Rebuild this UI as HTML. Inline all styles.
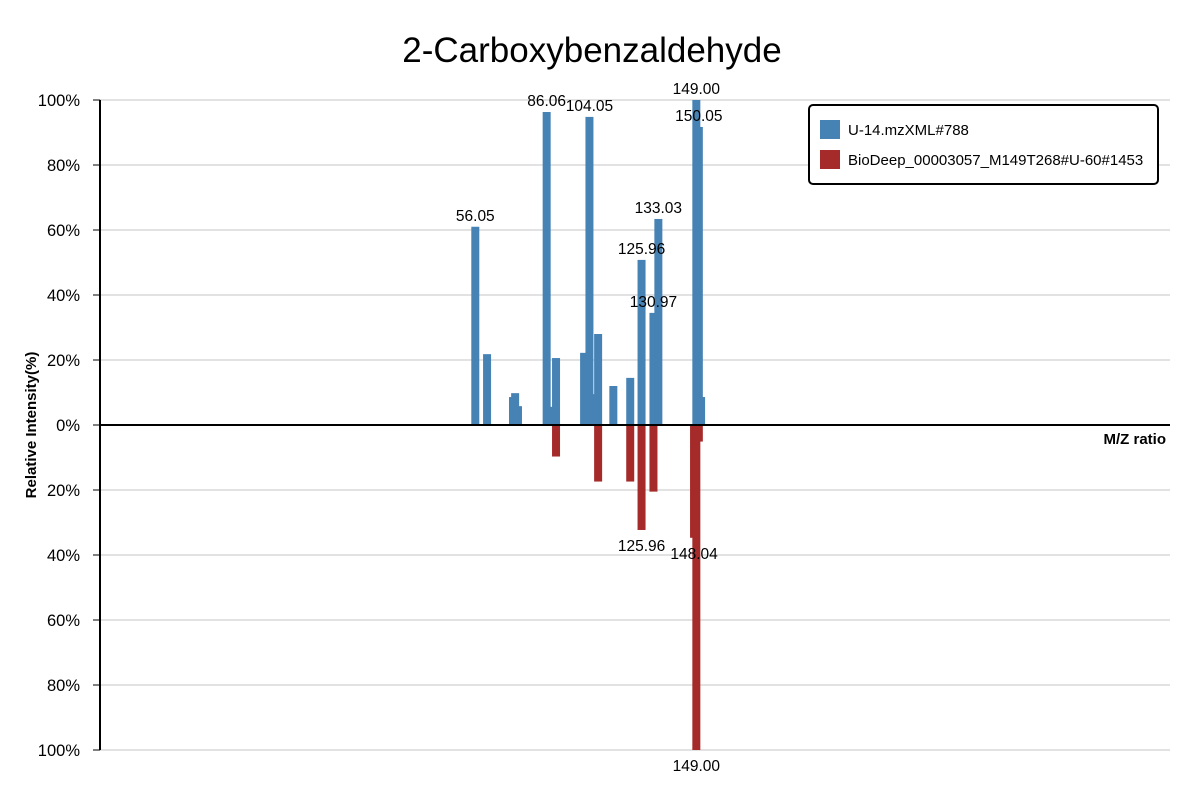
<!DOCTYPE html>
<html><head><meta charset="utf-8"><style>
html,body{margin:0;padding:0;background:#fff;}
svg{display:block;font-family:"Liberation Sans","DejaVu Sans",sans-serif;}
</style></head><body>
<svg id="chart" width="1200" height="800" viewBox="0 0 1200 800" xmlns="http://www.w3.org/2000/svg">
<text x="592" y="62" font-size="35" text-anchor="middle" fill="#000">2-Carboxybenzaldehyde</text>
<g id="grid"></g>
<g id="bars"></g>
<g id="labels"></g>
<g id="axes"></g>
<text transform="translate(36,425) rotate(-90)" font-size="15" font-weight="bold" text-anchor="middle">Relative Intensity(%)</text>
<text x="1166" y="444" font-size="15" font-weight="bold" text-anchor="end">M/Z ratio</text>
<g>
<rect x="809" y="105" width="349" height="79" rx="4" fill="#fff" stroke="#000" stroke-width="2"/>
<rect x="820" y="120" width="20" height="19" fill="#4682b4"/>
<text x="848" y="135" font-size="15">U-14.mzXML#788</text>
<rect x="820" y="150" width="20" height="19" fill="#a52a2a"/>
<text x="848" y="165" font-size="15">BioDeep_00003057_M149T268#U-60#1453</text>
</g>
</svg>
<script>
const topMz = [56.05, 61.0, 71.9, 72.8, 74.0, 86.06, 87.7, 90.0, 101.8, 104.05, 105.7, 107.7, 114.1, 121.2, 125.96, 130.97, 133.03, 149.00, 150.05, 151.0];
const topInt = [61.0, 21.8, 8.6, 9.8, 5.8, 96.3, 5.6, 20.6, 22.2, 94.8, 9.5, 28.0, 12.0, 14.5, 50.8, 34.5, 63.4, 100, 91.7, 8.6];
const topLabeled = [56.05, 86.06, 104.05, 125.96, 130.97, 133.03, 149.00, 150.05];
const botMz = [90.0, 107.7, 121.2, 125.96, 130.97, 148.04, 149.00, 150.05];
const botInt = [9.7, 17.4, 17.4, 32.3, 20.5, 34.7, 100, 5.1];
const botLabeled = [125.96, 148.04, 149.00];
const yTicks = [100, 80, 60, 40, 20, 0, -20, -40, -60, -80, -100];

const NS = "http://www.w3.org/2000/svg";
const X0 = 100, X1 = 1170, Y0 = 425, YS = 3.25;
function xs(mz){ return 475.3 + (mz - 56.05) * 2.378; }
function ys(v){ return Y0 - v * YS; }
function mk(tag, attrs, parent){ const e = document.createElementNS(NS, tag); for (const k in attrs) e.setAttribute(k, attrs[k]); parent.appendChild(e); return e; }

const grid = document.getElementById('grid');
const axes = document.getElementById('axes');
const bars = document.getElementById('bars');
const labels = document.getElementById('labels');

yTicks.forEach(t => {
  const y = ys(t);
  if (t !== 0) {
    const g = mk('line', {x1: X0, x2: X1, y1: y, y2: y, stroke: '#e2e2e2', 'stroke-width': 2}, grid);
    
    
  }
  const tk = mk('line', {x1: X0 - 7, x2: X0, y1: y, y2: y, stroke: '#000', 'stroke-width': 1}, axes);
  
  
  const lb = mk('text', {x: 80, y: y + 6, 'font-size': 16.5, 'text-anchor': 'end'}, axes);
  lb.textContent = Math.abs(t) + '%';
  
  
});
const ya = mk('line', {x1: X0, x2: X0, y1: ys(100), y2: ys(-100), stroke: '#000', 'stroke-width': 2}, axes);


const za = mk('line', {x1: X0, x2: X1, y1: Y0, y2: Y0, stroke: '#000', 'stroke-width': 2}, axes);



const BW = 8;
botMz.forEach((m, i) => {
  const r = mk('rect', {x: xs(m) - BW/2, y: Y0, width: BW, height: botInt[i] * YS, fill: '#a52a2a'}, bars);
  
  
});
topMz.forEach((m, i) => {
  const r = mk('rect', {x: xs(m) - BW/2, y: ys(topInt[i]), width: BW, height: topInt[i] * YS, fill: '#4682b4'}, bars);
  
  
});
topLabeled.forEach(m => {
  const i = topMz.indexOf(m);
  const t = mk('text', {x: xs(m), y: ys(topInt[i]) - 6, 'font-size': 15.5, 'text-anchor': 'middle'}, labels);
  t.textContent = m.toFixed(2);
  
  
});
botLabeled.forEach(m => {
  const i = botMz.indexOf(m);
  const t = mk('text', {x: xs(m), y: ys(-botInt[i]) + 21, 'font-size': 15.5, 'text-anchor': 'middle'}, labels);
  t.textContent = m.toFixed(2);
  
  
});
</script>
</body></html>
